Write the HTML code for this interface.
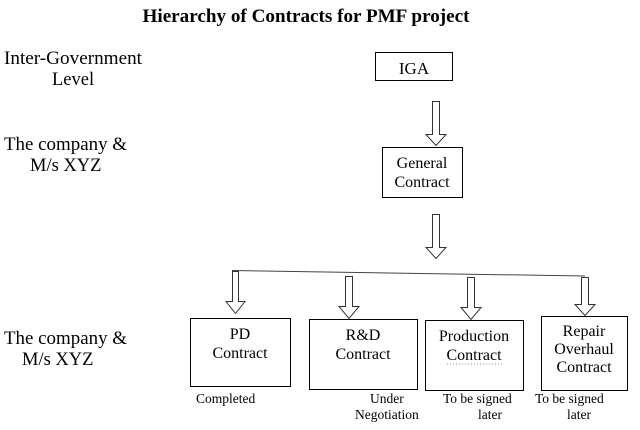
<!DOCTYPE html>
<html><head><meta charset="utf-8"><style>
html,body{margin:0;padding:0;background:#fff;}
svg{display:block;}
text{font-family:"Liberation Serif",serif;fill:#000;}
</style></head><body>
<svg width="640" height="430" viewBox="0 0 640 430" xmlns="http://www.w3.org/2000/svg">
<text x="306" y="22" text-anchor="middle" font-size="18.5" font-weight="bold" textLength="327" lengthAdjust="spacingAndGlyphs">Hierarchy of Contracts for PMF project</text>
<text x="4" y="64" font-size="18.5" textLength="138" lengthAdjust="spacingAndGlyphs">Inter-Government</text>
<text x="52" y="85" font-size="18.5">Level</text>
<text x="4" y="150" font-size="18.5" textLength="123" lengthAdjust="spacingAndGlyphs">The company &amp;</text>
<text x="30" y="171" font-size="18.5">M/s XYZ</text>
<text x="4" y="344" font-size="18.5" textLength="123" lengthAdjust="spacingAndGlyphs">The company &amp;</text>
<text x="22" y="365" font-size="18.5">M/s XYZ</text>
<g fill="#fff" stroke="#000" stroke-width="1">
<rect x="375.5" y="52.5" width="77" height="28"/>
<rect x="382.5" y="147.5" width="80" height="50"/>
<rect x="190.5" y="318.5" width="100" height="68"/>
<rect x="309.5" y="319.5" width="108" height="70"/>
<rect x="425.5" y="320.5" width="98" height="70"/>
<rect x="541.5" y="316.5" width="86" height="74"/>
</g>
<line x1="232" y1="270.5" x2="585" y2="276" stroke="#444" stroke-width="1"/>
<g fill="#fff" stroke="#333" stroke-width="1">
<path d="M432.5 101.5h7v33h6.5l-10 11-10-11h6.5z"/>
<path d="M432.5 214.5h7v33h6.5l-10 11-10-11h6.5z"/>
<path d="M232.5 271.5h6v30h6.5l-9.5 12-9.5-12h6.5z"/>
<path d="M345.5 276.5h7v30h6.5l-10 12-10-12h6.5z"/>
<path d="M467.5 277.5h7v30h6.5l-10 12-10-12h6.5z"/>
<path d="M581.5 277.5h7v27h6.5l-10 11-10-11h6.5z"/>
</g>
<text x="414" y="74" text-anchor="middle" font-size="17">IGA</text>
<text x="422" y="168" text-anchor="middle" font-size="16">General</text>
<text x="422" y="187" text-anchor="middle" font-size="16">Contract</text>
<text x="240" y="339" text-anchor="middle" font-size="16">PD</text>
<text x="240" y="358" text-anchor="middle" font-size="16">Contract</text>
<text x="363" y="340" text-anchor="middle" font-size="16">R&amp;D</text>
<text x="363" y="359" text-anchor="middle" font-size="16">Contract</text>
<text x="474" y="341" text-anchor="middle" font-size="16">Production</text>
<text x="474" y="360" text-anchor="middle" font-size="16">Contract</text>
<line x1="447" y1="364" x2="502" y2="364" stroke="#999" stroke-width="1" stroke-dasharray="1,2"/>
<text x="584" y="336" text-anchor="middle" font-size="16">Repair</text>
<text x="584" y="354" text-anchor="middle" font-size="16">Overhaul</text>
<text x="584" y="372" text-anchor="middle" font-size="16">Contract</text>
<text x="196" y="403" font-size="13.5">Completed</text>
<text x="370" y="403" font-size="13.5">Under</text>
<text x="355" y="419" font-size="13.5">Negotiation</text>
<text x="443" y="403" font-size="13.5">To be signed</text>
<text x="478" y="419" font-size="13.5">later</text>
<text x="535" y="403" font-size="13.5">To be signed</text>
<text x="567" y="419" font-size="13.5">later</text>
</svg>
</body></html>
